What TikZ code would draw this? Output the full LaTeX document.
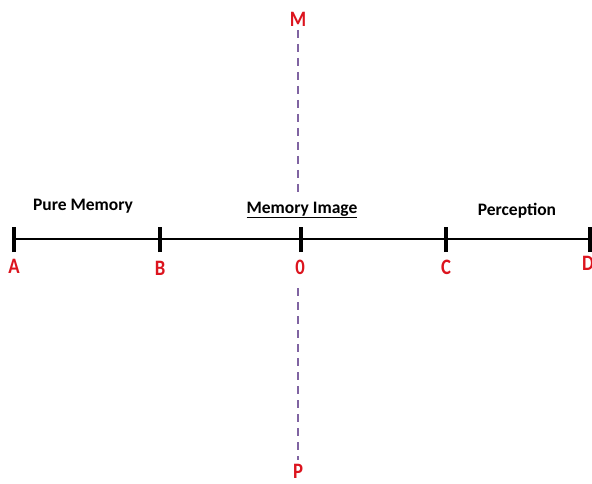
\documentclass[tikz,border=0pt]{standalone}
\usepackage{fontspec}
\setmainfont{Carlito}
\definecolor{axispurple}{RGB}{128,100,162}
\definecolor{labred}{RGB}{220,20,30}
\begin{document}
\begin{tikzpicture}[x=1pt,y=-1pt,
  axis/.style={line width=2.8pt,black},
  tick/.style={line width=4pt,black},
  vaxis/.style={line width=2.2pt,axispurple,dash pattern=on 8pt off 6pt},
  ptlabel/.style={text=labred,font=\bfseries\fontsize{22}{22}\selectfont,inner sep=0pt,xscale=0.85},
  seglabel/.style={font=\bfseries\fontsize{17.5}{17.5}\selectfont,inner sep=0pt}]
\useasboundingbox (0,0) rectangle (592,484);
\fill[white] (0,0) rectangle (592,484);
% horizontal axis coordinates
\coordinate (pA) at (14,239);
\coordinate (pB) at (160,239);
\coordinate (pO) at (301,239);
\coordinate (pC) at (446,239);
\coordinate (pD) at (590,239);
\draw[axis] (pA) -- (pD);
\foreach \p in {pA,pB,pO,pC,pD}{
  \draw[tick] ([yshift=-13pt]\p) -- ([yshift=12pt]\p);
}
% vertical dashed axis
\coordinate (vt1) at (298,30);
\coordinate (vt2) at (298,196);
\coordinate (vb1) at (298,288);
\coordinate (vb2) at (298,460);
\draw[vaxis] (vt1) -- (vt2);
\draw[vaxis] (vb1) -- (vb2);
% point labels
\node[ptlabel] (lA) at (14,266) {A};
\node[ptlabel] (lB) at (160,268) {B};
\node[ptlabel] (lO) at (300,267) {0};
\node[ptlabel] (lC) at (446,267) {C};
\node[ptlabel] (lD) at (588,263) {D};
\node[ptlabel] (lM) at (298,19) {M};
\node[ptlabel] (lP) at (298,471) {P};
% segment labels
\node[seglabel] (pure) at (83,206) {Pure Memory};
\node[seglabel] (img) at (302,210) {\underline{Memory Image}};
\node[seglabel] (perc) at (517,211) {Perception};
\end{tikzpicture}
\end{document}
